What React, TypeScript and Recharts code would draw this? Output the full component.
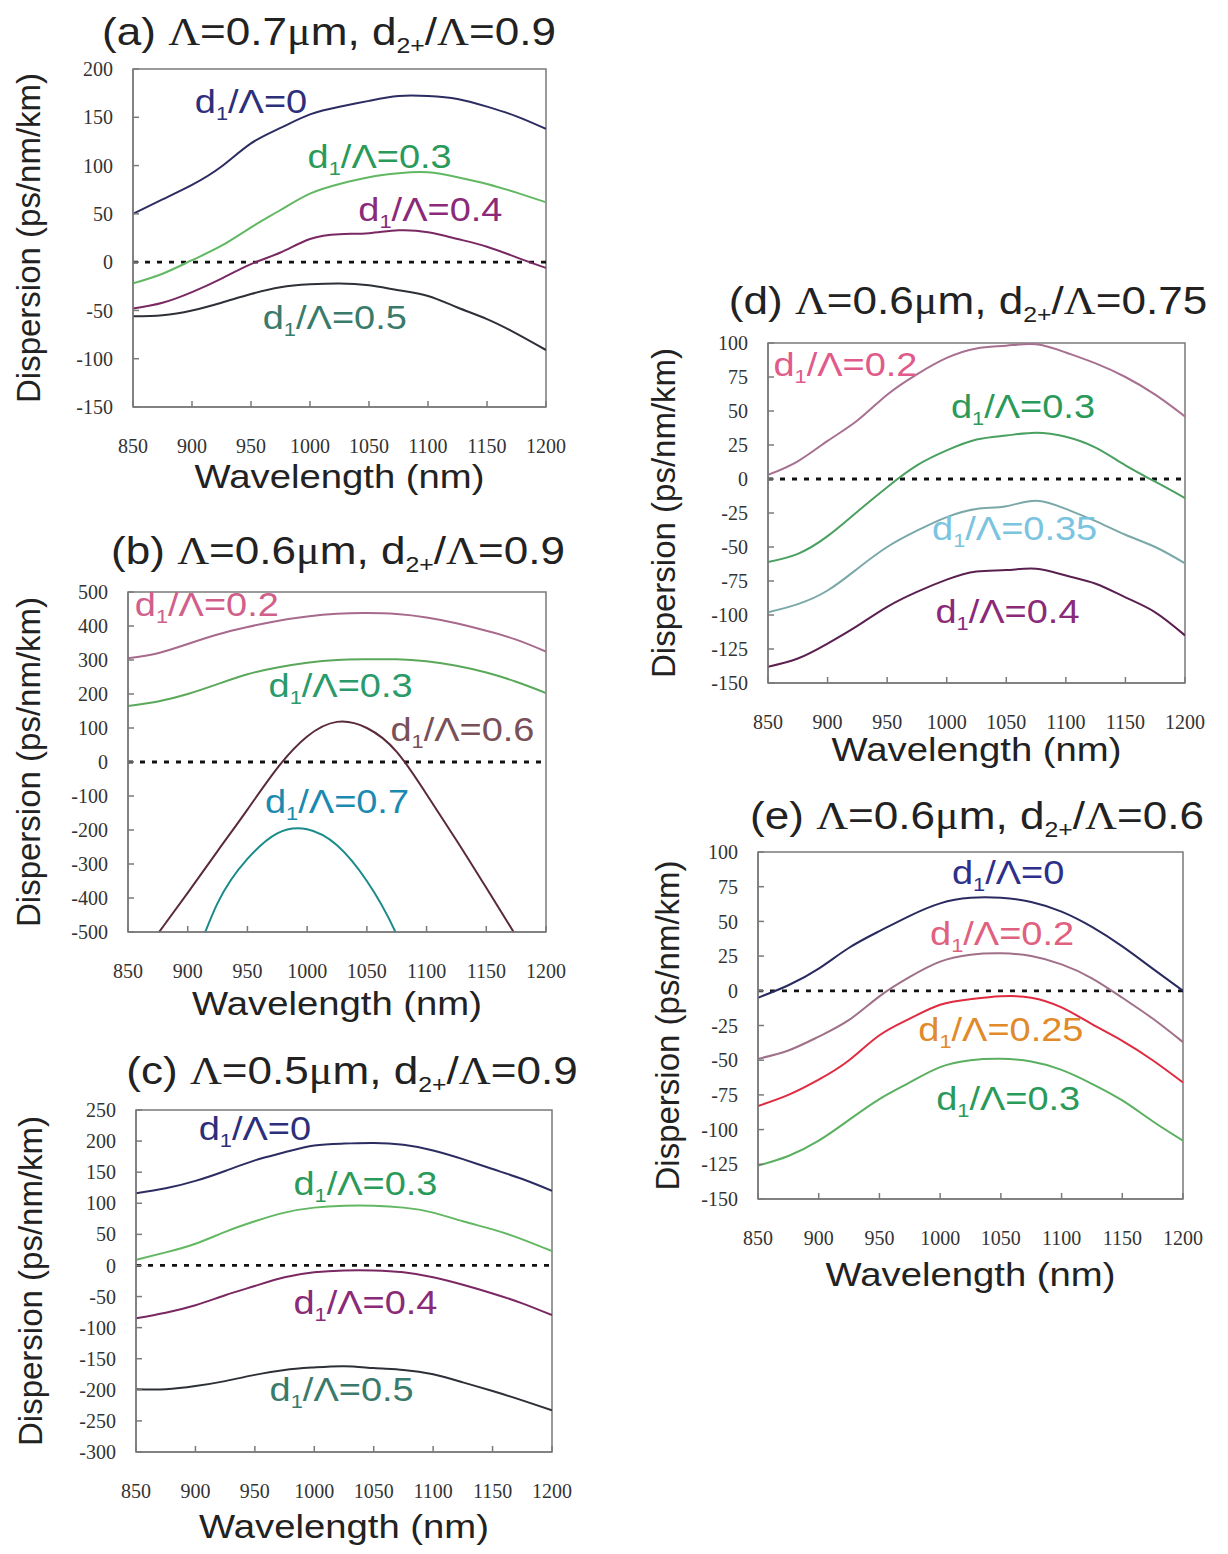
import React from 'react'
import { LineChart, Line, XAxis, YAxis, ReferenceLine, ReferenceArea, ReferenceDot } from 'recharts'

const SANS = '"Liberation Sans", Arial, sans-serif'
const SERIF = '"Liberation Serif", "Times New Roman", serif'
const FRAME = '#7a7a7a'

const wavelengths = [850, 875, 900, 925, 950, 975, 1000, 1025, 1050, 1075, 1100, 1125, 1150, 1175, 1200]
const xTicks = [850, 900, 950, 1000, 1050, 1100, 1150, 1200]

// (a) pitch 0.7um, d2+/pitch 0.9
const aTicks = [-150, -100, -50, 0, 50, 100, 150, 200]
const aD0 = [50, 65, 80, 99, 123, 139, 153, 161, 167, 172, 172, 169, 161, 151, 138]
const aD03 = [-22, -12, 2, 17, 36, 54, 71, 81, 88, 92, 93, 88, 81, 72, 62]
const aD04 = [-48, -42, -31, -17, -2, 10, 24, 29, 30, 33, 31, 24, 16, 5, -6]
const aD05 = [-56, -55, -50, -42, -33, -26, -23, -22, -24, -29, -35, -47, -59, -74, -91]

// (b) pitch 0.6um, d2+/pitch 0.9
const bTicks = [-500, -400, -300, -200, -100, 0, 100, 200, 300, 400, 500]
const bD02 = [305, 320, 347, 375, 397, 415, 428, 436, 438, 435, 425, 408, 386, 360, 325]
const bD03 = [165, 178, 200, 229, 258, 278, 292, 300, 302, 302, 296, 283, 263, 236, 203]
const bD06 = [-625, -505, -385, -262, -140, -18, 75, 118, 100, 30, -95, -230, -370, -512, -655]
const bD07 = [null, null, -640, -415, -285, -210, -198, -245, -350, -508, -730, null, null, null, null]

// (c) pitch 0.5um, d2+/pitch 0.9
const cTicks = [-300, -250, -200, -150, -100, -50, 0, 50, 100, 150, 200, 250]
const cD0 = [116, 124, 136, 152, 169, 182, 193, 196, 197, 194, 185, 171, 155, 139, 120]
const cD03 = [9, 21, 35, 54, 71, 85, 93, 96, 96, 93, 85, 71, 58, 42, 23]
const cD04 = [-85, -76, -64, -48, -33, -19, -11, -8, -8, -11, -19, -31, -45, -61, -80]
const cD05 = [-199, -199, -194, -186, -176, -168, -164, -162, -165, -168, -175, -188, -202, -217, -233]

// (d) pitch 0.6um, d2+/pitch 0.75
const dTicks = [-150, -125, -100, -75, -50, -25, 0, 25, 50, 75, 100]
const dD02 = [3, 13, 28, 43, 62, 77, 89, 96, 98, 99, 93, 85, 75, 62, 46]
const dD03 = [-61, -55, -42, -24, -6, 10, 21, 29, 32, 34, 31, 23, 10, -2, -14]
const dD035 = [-98, -92, -82, -66, -50, -38, -28, -22, -20, -16, -22, -31, -41, -50, -62]
const dD04 = [-138, -132, -121, -108, -94, -83, -74, -68, -67, -66, -71, -77, -87, -98, -115]

// (e) pitch 0.6um, d2+/pitch 0.6
const eTicks = [-150, -125, -100, -75, -50, -25, 0, 25, 50, 75, 100]
const eD0 = [-5, 4, 16, 31, 43, 54, 63, 67, 67, 64, 57, 46, 32, 16, 0]
const eD02 = [-49, -43, -33, -21, -4, 10, 21, 26, 27, 25, 19, 9, -5, -20, -37]
const eD025 = [-83, -75, -64, -50, -32, -20, -10, -6, -4, -5, -12, -24, -36, -50, -66]
const eD03 = [-126, -119, -108, -93, -78, -66, -55, -50, -49, -51, -57, -67, -79, -94, -108]

type Series = { key: string; values: (number | null)[]; color: string }
type Tag = { x: number; y: number; ratio: string; color: string }
type PanelDef = {
  letter: string
  pitch: string
  d2: string
  x: number
  y: number
  w: number
  h: number
  yDomain: [number, number]
  yTicks: number[]
  series: Series[]
  tags: Tag[]
  titleX: number
  titleY: number
  xTitleDy: number
  yTitleX: number
}

const panels: PanelDef[] = [
  {
    letter: 'a', pitch: '0.7', d2: '0.9',
    x: 133, y: 69, w: 413, h: 338,
    yDomain: [-150, 200], yTicks: aTicks,
    series: [
      { key: 'r0', values: aD0, color: '#2c2c62' },
      { key: 'r3', values: aD03, color: '#62b862' },
      { key: 'r4', values: aD04, color: '#7a2862' },
      { key: 'r5', values: aD05, color: '#2e3038' },
    ],
    tags: [
      { x: 950, y: 166, ratio: '0', color: '#2d2f7a' },
      { x: 1059, y: 109, ratio: '0.3', color: '#2a9a5a' },
      { x: 1102, y: 54, ratio: '0.4', color: '#8a2a78' },
      { x: 1021, y: -58, ratio: '0.5', color: '#3a7a6a' },
    ],
    titleX: 329, titleY: 31, xTitleDy: 81, yTitleX: 28,
  },
  {
    letter: 'b', pitch: '0.6', d2: '0.9',
    x: 128, y: 592, w: 418, h: 340,
    yDomain: [-500, 500], yTicks: bTicks,
    series: [
      { key: 'r2', values: bD02, color: '#a86a8c' },
      { key: 'r3', values: bD03, color: '#5aa85a' },
      { key: 'r6', values: bD06, color: '#5a2a3a' },
      { key: 'r7', values: bD07, color: '#1a8a8a' },
    ],
    tags: [
      { x: 916, y: 462, ratio: '0.2', color: '#d0608a' },
      { x: 1028, y: 224, ratio: '0.3', color: '#2a9a6a' },
      { x: 1130, y: 94, ratio: '0.6', color: '#7a5058' },
      { x: 1025, y: -118, ratio: '0.7', color: '#1a8ab0' },
    ],
    titleX: 338, titleY: 550, xTitleDy: 83, yTitleX: 28,
  },
  {
    letter: 'c', pitch: '0.5', d2: '0.9',
    x: 136, y: 1110, w: 416, h: 342,
    yDomain: [-300, 250], yTicks: cTicks,
    series: [
      { key: 'r0', values: cD0, color: '#2c2c62' },
      { key: 'r3', values: cD03, color: '#62b862' },
      { key: 'r4', values: cD04, color: '#7a2862' },
      { key: 'r5', values: cD05, color: '#2e3038' },
    ],
    tags: [
      { x: 950, y: 220, ratio: '0', color: '#2d2f7a' },
      { x: 1043, y: 131, ratio: '0.3', color: '#2a9a5a' },
      { x: 1043, y: -60, ratio: '0.4', color: '#8a2a78' },
      { x: 1023, y: -200, ratio: '0.5', color: '#3a7a6a' },
    ],
    titleX: 352, titleY: 1070, xTitleDy: 86, yTitleX: 30,
  },
  {
    letter: 'd', pitch: '0.6', d2: '0.75',
    x: 768, y: 343, w: 417, h: 340,
    yDomain: [-150, 100], yTicks: dTicks,
    series: [
      { key: 'r2', values: dD02, color: '#a87090' },
      { key: 'r3', values: dD03, color: '#4aa060' },
      { key: 'r35', values: dD035, color: '#7aa8a8' },
      { key: 'r4', values: dD04, color: '#5a2050' },
    ],
    tags: [
      { x: 915, y: 84, ratio: '0.2', color: '#e05a8a' },
      { x: 1064, y: 53, ratio: '0.3', color: '#2a9a5a' },
      { x: 1057, y: -37, ratio: '0.35', color: '#7ac4e0' },
      { x: 1051, y: -98, ratio: '0.4', color: '#8a2a78' },
    ],
    titleX: 968, titleY: 300, xTitleDy: 78, yTitleX: 663,
  },
  {
    letter: 'e', pitch: '0.6', d2: '0.6',
    x: 758, y: 852, w: 425, h: 347,
    yDomain: [-150, 100], yTicks: eTicks,
    series: [
      { key: 'r0', values: eD0, color: '#2a2a60' },
      { key: 'r2', values: eD02, color: '#a07088' },
      { key: 'r25', values: eD025, color: '#e02a40' },
      { key: 'r3', values: eD03, color: '#5ab060' },
    ],
    tags: [
      { x: 1056, y: 85, ratio: '0', color: '#2d2f8a' },
      { x: 1051, y: 41, ratio: '0.2', color: '#e06080' },
      { x: 1050, y: -28, ratio: '0.25', color: '#e08a2a' },
      { x: 1056, y: -78, ratio: '0.3', color: '#2a9a5a' },
    ],
    titleX: 977, titleY: 815, xTitleDy: 87, yTitleX: 667,
  },
]

function buildRows(series: Series[]) {
  return wavelengths.map((w, i) => {
    const row: Record<string, number | null> = { w }
    series.forEach(s => { row[s.key] = s.values[i] })
    return row
  })
}

function CurveTag({ cx, cy, ratio, color }: { cx: number; cy: number; ratio: string; color: string }) {
  return (
    <g transform={`translate(${cx},${cy}) scale(1.15,1)`}>
      <text textAnchor="middle" y={11} fill={color} fontFamily={SANS} fontSize={33}>
        d<tspan fontSize={19} dy={7}>1</tspan><tspan dy={-7}>/Λ={ratio}</tspan>
      </text>
    </g>
  )
}

function Panel({ p }: { p: PanelDef }) {
  const rows = buildRows(p.series)
  const [lo, hi] = p.yDomain
  return (
    <div style={{ position: 'absolute', left: p.x - 130, top: p.y - 20 }}>
      <LineChart
        width={p.w + 150}
        height={p.h + 120}
        data={rows}
        margin={{ top: 20, right: 20, bottom: 0, left: 0 }}
      >
        <ReferenceArea x1={850} x2={1200} y1={lo} y2={hi} fill="none" stroke={FRAME} strokeWidth={1.5} />
        <XAxis
          dataKey="w"
          type="number"
          domain={[850, 1200]}
          ticks={xTicks}
          interval={0}
          height={100}
          stroke={FRAME}
          strokeWidth={1.5}
          tickSize={-6}
          tickMargin={38}
          tick={{ fill: '#333', fontFamily: SERIF, fontSize: 20 }}
          allowDataOverflow
        />
        <YAxis
          type="number"
          domain={p.yDomain}
          ticks={p.yTicks}
          interval={0}
          width={130}
          stroke={FRAME}
          strokeWidth={1.5}
          tickSize={-6}
          tickMargin={26}
          tick={{ fill: '#333', fontFamily: SERIF, fontSize: 20 }}
          allowDataOverflow
        />
        <ReferenceLine y={0} stroke="#111" strokeWidth={2.8} strokeDasharray="5 7" />
        {p.series.map(s => (
          <Line
            key={s.key}
            dataKey={s.key}
            type="natural"
            stroke={s.color}
            strokeWidth={2}
            dot={false}
            connectNulls={false}
            isAnimationActive={false}
          />
        ))}
        {p.tags.map(t => (
          <ReferenceDot
            key={t.ratio}
            x={t.x}
            y={t.y}
            r={0}
            ifOverflow="visible"
            shape={(props: any) => <CurveTag cx={props.cx} cy={props.cy} ratio={t.ratio} color={t.color} />}
          />
        ))}
      </LineChart>
    </div>
  )
}

function Titles() {
  return (
    <svg width={1228} height={1554} style={{ position: 'absolute', left: 0, top: 0, pointerEvents: 'none' }}>
      {panels.map(p => (
        <g key={p.letter}>
          <g transform={`translate(${p.titleX},${p.titleY + 14}) scale(1.13,1)`}>
            <text textAnchor="middle" fontFamily={SANS} fontSize={39} fill="#222">
              ({p.letter}) <tspan fontFamily={SERIF}>Λ</tspan>={p.pitch}<tspan fontFamily={SERIF}>μ</tspan>m, d<tspan fontSize={22} dy={8}>2+</tspan><tspan dy={-8}>/</tspan><tspan fontFamily={SERIF}>Λ</tspan>={p.d2}
            </text>
          </g>
          <g transform={`translate(${p.x + p.w / 2},${p.y + p.h + p.xTitleDy}) scale(1.16,1)`}>
            <text textAnchor="middle" fontFamily={SANS} fontSize={33} fill="#222">Wavelength (nm)</text>
          </g>
          <g transform={`translate(${p.yTitleX},${p.y + p.h / 2}) rotate(-90)`}>
            <text textAnchor="middle" y={12} fontFamily={SANS} fontSize={33} fill="#222">Dispersion (ps/nm/km)</text>
          </g>
        </g>
      ))}
    </svg>
  )
}

export default function App() {
  return (
    <div style={{ position: 'absolute', left: 0, top: 0, width: 1228, height: 1554, background: '#fff' }}>
      {panels.map(p => <Panel key={p.letter} p={p} />)}
      <Titles />
    </div>
  )
}
